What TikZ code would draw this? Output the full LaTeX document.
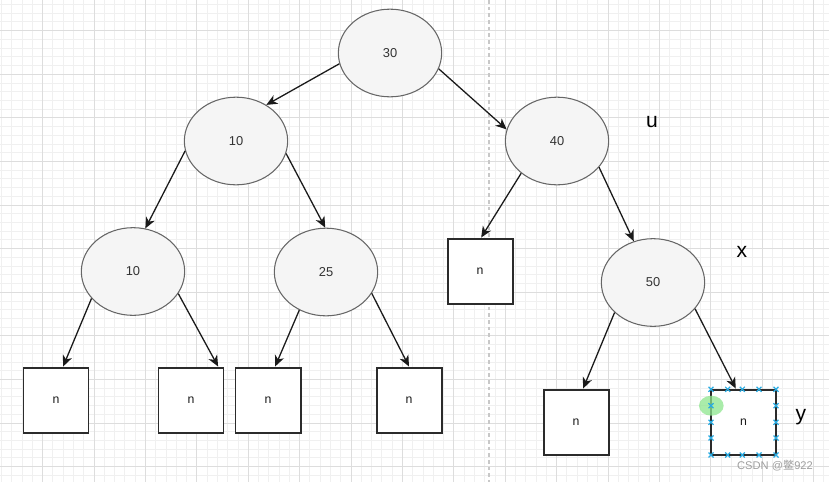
\documentclass[tikz,border=0pt]{standalone}
\usepackage{fontspec}
\setmainfont{Liberation Sans}
\newfontfamily\cjk{Noto Sans CJK SC}
\usetikzlibrary{arrows.meta,shapes.geometric}
\definecolor{gridmajor}{HTML}{DDDDDD}
\definecolor{gridminor}{HTML}{F0F0F0}
\definecolor{splitline}{HTML}{C8C8C8}
\definecolor{nodefill}{HTML}{F5F5F5}
\definecolor{nodebd}{HTML}{666666}
\definecolor{ink}{HTML}{1A1A1A}
\definecolor{numink}{HTML}{333333}
\definecolor{boxbd}{HTML}{2B2B2B}
\definecolor{handle}{HTML}{29ABE2}
\definecolor{pick}{HTML}{8EE68E}
\tikzset{
  keynode/.style={ellipse,draw=nodebd,fill=nodefill,line width=0.9pt,
                  minimum width=31mm,minimum height=26.3mm,inner sep=0pt,
                  font=\fontsize{11}{13}\selectfont,text=numink},
  nilbox/.style={rectangle,draw=boxbd,fill=white,line width=1.7pt,
                 minimum size=19.5mm,inner sep=0pt,
                 font=\fontsize{10.5}{12}\selectfont,text=ink},
  edge/.style={-{Stealth[length=3.3mm,width=2.9mm,inset=1mm]},
               line width=1.1pt,ink},
  tag/.style={font=\fontsize{18}{21}\selectfont,text=black,inner sep=0pt},
}

\begin{document}
\begin{tikzpicture}[x=0.3mm,y=-0.3mm]
  \useasboundingbox (0,0) rectangle (829,482);

  % Background grid: minor every 10.28 x 8.72, major every fifth line
  \foreach \i in {-4,...,76}
    \draw[gridminor,line width=0.3mm] ({42.7+10.28*\i},0) -- ++(0,482);
  \foreach \j in {-3,...,51}
    \draw[gridminor,line width=0.3mm] (0,{30.7+8.72*\j}) -- ++(829,0);
  \foreach \i in {0,...,15}
    \draw[gridmajor,line width=0.3mm] ({42.7+51.4*\i},0) -- ++(0,482);
  \foreach \j in {0,...,10}
    \draw[gridmajor,line width=0.3mm] (0,{30.7+43.6*\j}) -- ++(829,0);

  % Page split
  \draw[splitline,line width=0.45mm,dash pattern=on 1.1mm off 0.9mm]
    (489,0) -- (489,482);

  % Keys
  \node[keynode] (k30)  at (390,53)    {30};
  \node[keynode] (k10)  at (236,141)   {10};
  \node[keynode] (k40)  at (557,141)   {40};
  \node[keynode] (k10b) at (133,271.5) {10};
  \node[keynode] (k25)  at (326,272)   {25};
  \node[keynode] (k50)  at (653,282.5) {50};

  % Nil leaves
  \node[nilbox] (n1) at (56,400)    {n};
  \node[nilbox] (n2) at (191,400)   {n};
  \node[nilbox] (n3) at (268,400)   {n};
  \node[nilbox] (n4) at (409,400)   {n};
  \node[nilbox] (n5) at (480,271)   {n};
  \node[nilbox] (n6) at (576,422)   {n};
  \node[nilbox] (n7) at (743.5,422) {n};

  % Child links
  \draw[edge] (k30.192)  -- (k10.50);
  \draw[edge] (k30.342)  -- (k40.167);
  \draw[edge] (k10.191)  -- (k10b.74);
  \draw[edge] (k10.346)  -- (k25.91);
  \draw[edge] (k40.222)  -- (n5.88);
  \draw[edge] (k40.328)  -- (k50.115);
  \draw[edge] (k10b.213) -- (n1.78);
  \draw[edge] (k10b.334) -- (n2.51);
  \draw[edge] (k25.235)  -- (n3.78);
  \draw[edge] (k25.335)  -- (n4.90);
  \draw[edge] (k50.218)  -- (n6.78);
  \draw[edge] (k50.328)  -- (n7.103);

  % Names u, x, y
  \node[tag] (lu) at (652,122) {u};
  \node[tag] (lx) at (742,252) {x};
  \node[tag] (ly) at (801,417) {y};

  % Selection handles on the right leaf
  \fill[pick,opacity=0.75] (711.3,405.7) ellipse [x radius=3.7mm,y radius=3mm];
  \foreach \x in {711,727.7,742.3,759,776}{
    \draw[handle,line width=0.35mm] (\x-2.5,386.8) -- (\x+2.5,391.8)
      (\x-2.5,391.8) -- (\x+2.5,386.8);
    \draw[handle,line width=0.35mm] (\x-2.5,452.5) -- (\x+2.5,457.5)
      (\x-2.5,457.5) -- (\x+2.5,452.5);
  }
  \foreach \y in {405.7,422.3,438}{
    \draw[handle,line width=0.35mm] (708.5,\y-2.5) -- (713.5,\y+2.5)
      (708.5,\y+2.5) -- (713.5,\y-2.5);
    \draw[handle,line width=0.35mm] (773.5,\y-2.5) -- (778.5,\y+2.5)
      (773.5,\y+2.5) -- (778.5,\y-2.5);
  }

  % Watermark
  \node[font=\fontsize{9.5}{11}\selectfont,text=black!38,inner sep=0pt]
    (mark) at (775,466) {CSDN @{\cjk 鳖}922};
\end{tikzpicture}
\end{document}
